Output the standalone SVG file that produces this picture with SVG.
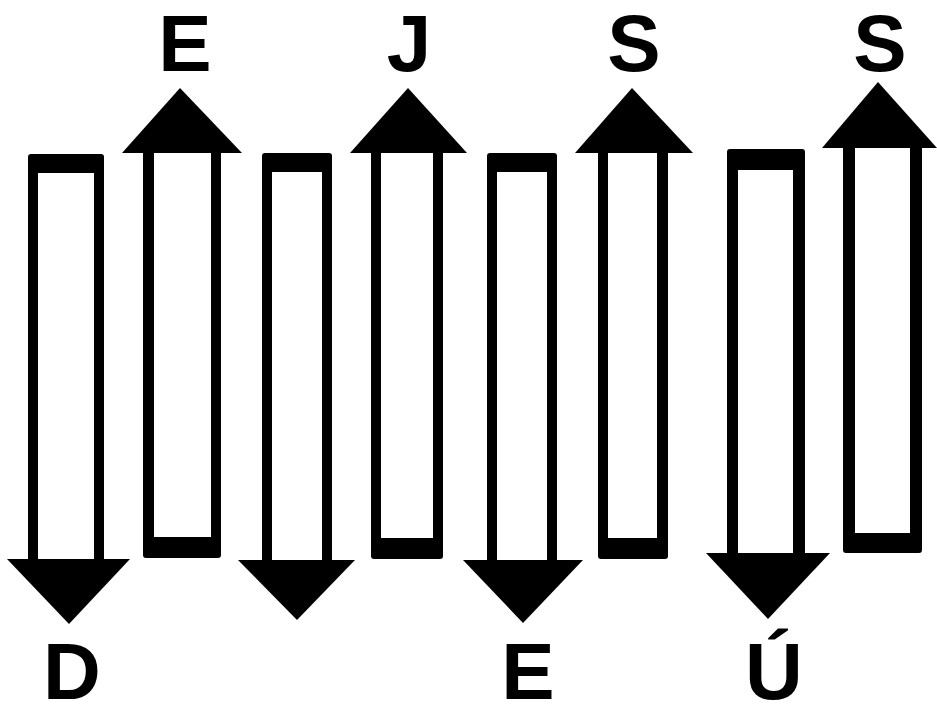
<svg xmlns="http://www.w3.org/2000/svg" width="937" height="704" viewBox="0 0 937 704">
<style>
.o{fill:#000}
.i{fill:#fff}
.h{fill:#000}
.t{font-family:"Liberation Sans",Arial,sans-serif;font-weight:bold;font-size:80px;fill:#000;text-anchor:middle}
</style>
<rect width="937" height="704" fill="#fff"/>
<g id="arrow1">
<rect class="o" x="28" y="154" width="76" height="410" rx="3"/>
<rect class="i" x="38" y="173" width="56" height="390"/>
<polygon class="h" points="7,559 130,559 69,624"/>
<text class="t" x="72" y="699">D</text>
</g>
<g id="arrow2">
<rect class="o" x="143" y="148" width="78" height="410" rx="3"/>
<rect class="i" x="154" y="149" width="57" height="388"/>
<polygon class="h" points="122,153 242,153 180,88"/>
<text class="t" x="185" y="71">E</text>
</g>
<g id="arrow3">
<rect class="o" x="262" y="153" width="70" height="412" rx="3"/>
<rect class="i" x="272" y="172" width="50" height="392"/>
<polygon class="h" points="238,560 355,560 297,620"/>
</g>
<g id="arrow4">
<rect class="o" x="371" y="148" width="72" height="411" rx="3"/>
<rect class="i" x="381" y="149" width="52" height="389"/>
<polygon class="h" points="350,153 467,153 408,88"/>
<text class="t" x="409" y="71">J</text>
</g>
<g id="arrow5">
<rect class="o" x="487" y="153" width="70" height="412" rx="3"/>
<rect class="i" x="497" y="172" width="50" height="392"/>
<polygon class="h" points="463,560 583,560 523,623"/>
<text class="t" x="528" y="699">E</text>
</g>
<g id="arrow6">
<rect class="o" x="598" y="148" width="70" height="411" rx="3"/>
<rect class="i" x="608" y="149" width="49" height="389"/>
<polygon class="h" points="575,153 693,153 632,88"/>
<text class="t" x="634" y="71">S</text>
</g>
<g id="arrow7">
<rect class="o" x="727" y="149" width="78" height="410" rx="3"/>
<rect class="i" x="738" y="170" width="55" height="388"/>
<polygon class="h" points="706,553 830,553 768,619"/>
<text class="t" x="774" y="699">Ú</text>
</g>
<g id="arrow8">
<rect class="o" x="843" y="143" width="79" height="410" rx="3"/>
<rect class="i" x="855" y="144" width="55" height="389"/>
<polygon class="h" points="822,148 937,148 878,82"/>
<text class="t" x="880" y="71">S</text>
</g>
<g id="connectors"></g>
</svg>
